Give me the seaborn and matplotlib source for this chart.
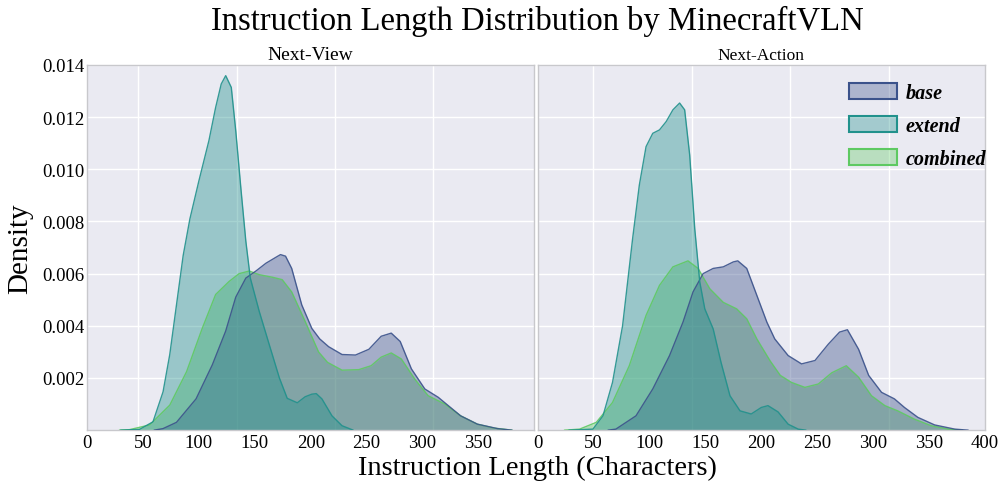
import numpy as np
import pandas as pd
import matplotlib
matplotlib.use("Agg")
import matplotlib.pyplot as plt
from matplotlib.patches import Patch
import seaborn as sns

# datasets and colours
datasets = ["base", "extend", "combined"]
palette = sns.color_palette("viridis", 3)

# density curves (x = instruction length, y = density)
# Next-View panel
nv_base_x = [60, 68, 80, 97.5, 112, 124, 133, 142, 151, 160, 169, 173, 177.5, 183, 192, 201,
             208, 216, 228, 240, 252, 263, 272, 280, 290, 302, 314, 323, 334, 349, 367, 380]
nv_base_y = [0.0, 0.00006, 0.0003, 0.0012, 0.0025, 0.0038, 0.0051, 0.00583, 0.0061, 0.0064,
             0.00663, 0.00673, 0.00667, 0.0062, 0.0048, 0.0039, 0.0035, 0.0032, 0.0029, 0.00288,
             0.0031, 0.0036, 0.00372, 0.0034, 0.00235, 0.00158, 0.00126, 0.00094, 0.00055,
             0.00023, 0.00006, 0.0]
nv_extend_x = [30, 47, 59, 68, 74, 80, 86, 92, 100, 109, 115, 120, 124, 129, 133, 137.5, 142,
               146, 154, 163, 172, 179, 188, 195, 201, 205, 210, 219, 228, 238]
nv_extend_y = [0.0, 0.00003, 0.00032, 0.00147, 0.0029, 0.0048, 0.0067, 0.0081, 0.00955, 0.0111,
               0.01237, 0.01327, 0.01359, 0.01314, 0.01147, 0.0093, 0.00724, 0.00583, 0.00455,
               0.00327, 0.002, 0.00122, 0.00105, 0.00128, 0.00138, 0.0014, 0.0012, 0.00055,
               0.00017, 0.0]
nv_combined_x = [29, 38, 56, 74, 89, 103, 115, 127, 136, 145, 154, 166, 174.5, 183, 195, 207,
                 215, 228, 243, 254, 263, 272, 281, 293, 305, 320, 334, 349, 364, 380]
nv_combined_y = [0.0, 0.00002, 0.0002, 0.00096, 0.00224, 0.0039, 0.0052, 0.0057, 0.006, 0.0061,
                 0.00596, 0.00586, 0.00577, 0.0053, 0.00417, 0.003, 0.0026, 0.0023, 0.00232,
                 0.00247, 0.0028, 0.00296, 0.00273, 0.00196, 0.00132, 0.001, 0.00055, 0.00023,
                 0.00008, 0.0]

# Next-Action panel
na_base_x = [63, 70, 88, 103, 118, 130, 139, 148, 157, 166, 175, 179, 187, 196, 205, 212, 224,
             236, 248, 260, 270, 277, 287, 296, 307.5, 319, 328, 340, 355, 373, 385]
na_base_y = [0.0, 0.00004, 0.00055, 0.00158, 0.00286, 0.00414, 0.0053, 0.006, 0.0062, 0.00626,
             0.00645, 0.00649, 0.0062, 0.00517, 0.00414, 0.0035, 0.00286, 0.00254, 0.00267,
             0.0033, 0.00376, 0.00385, 0.0031, 0.0021, 0.00145, 0.0012, 0.00087, 0.00049,
             0.0002, 0.00004, 0.0]
na_extend_x = [28, 49.5, 58.5, 67, 76, 85, 91, 97, 103, 109, 115, 121, 127, 131.5, 136, 140.5,
               145, 149.5, 157, 164, 172, 181, 191, 200, 206, 215, 224, 233, 240]
na_extend_y = [0.0, 0.00004, 0.00055, 0.00183, 0.004, 0.00735, 0.0094, 0.01087, 0.01138,
               0.01151, 0.01183, 0.01228, 0.01254, 0.01228, 0.01055, 0.00773, 0.00568, 0.00465,
               0.00388, 0.0026, 0.00132, 0.00074, 0.00062, 0.00087, 0.00094, 0.0007, 0.00023,
               0.00004, 0.0]
na_combined_x = [24, 37.6, 52.5, 67, 82, 97, 109, 121, 134.5, 143.5, 154, 166, 178, 187, 196,
                 208, 217, 227, 239, 251, 263, 276, 287, 298.5, 310.5, 322, 337, 352, 367, 380]
na_combined_y = [0.0, 0.00004, 0.0003, 0.00106, 0.00247, 0.0044, 0.00555, 0.00626, 0.00649,
                 0.0062, 0.00542, 0.0049, 0.00465, 0.00427, 0.0035, 0.00265, 0.0021, 0.00183,
                 0.00164, 0.00177, 0.0022, 0.00247, 0.00203, 0.00132, 0.00094, 0.00074, 0.00042,
                 0.00017, 0.00004, 0.0]

panels = {
    "Next-View": {"base": (nv_base_x, nv_base_y),
                  "extend": (nv_extend_x, nv_extend_y),
                  "combined": (nv_combined_x, nv_combined_y)},
    "Next-Action": {"base": (na_base_x, na_base_y),
                    "extend": (na_extend_x, na_extend_y),
                    "combined": (na_combined_x, na_combined_y)},
}

y_ticks = [0.002, 0.004, 0.006, 0.008, 0.010, 0.012, 0.014]
x_labels = [0, 50, 100, 150, 200, 250, 300, 350, 400]

sns.set_theme(style="darkgrid")
plt.rcParams['font.family'] = ['Liberation Serif', 'DejaVu Serif']
plt.rcParams.update({"text.color": "black", "axes.labelcolor": "black",
                     "xtick.color": "black", "ytick.color": "black"})

fig, axes = plt.subplots(1, 2, figsize=(10, 4.85), dpi=100, sharey=True)
fig.subplots_adjust(left=0.087, right=0.985, bottom=0.111, top=0.864, wspace=0.007)

# vertical grid lines in the reference do not sit on the tick labels
grid_pos = {"Next-View": [46, 134, 222, 309], "Next-Action": [50, 138, 226, 314]}
title_size = {"Next-View": 14, "Next-Action": 12.5}

for ax, (name, curves) in zip(axes, panels.items()):
    # draw bottom to top: combined, base, extend
    for ds in ["combined", "base", "extend"]:
        xs, ys = curves[ds]
        col = palette[datasets.index(ds)]
        df = pd.DataFrame({"x": xs, "y": ys})
        ax.fill_between(df["x"], df["y"], color=col, alpha=0.4, linewidth=0, zorder=2)
        sns.lineplot(data=df, x="x", y="y", ax=ax, color=col, linewidth=1.0, alpha=0.9, zorder=3)
    ax.set_xlim(0, 400)
    ax.set_ylim(0, 0.014)
    ax.set_title(name, fontsize=title_size[name], pad=4)
    ax.set_xlabel("")
    ax.set_ylabel("")
    lbls = x_labels if name == "Next-Action" else x_labels[:-1]
    ax.set_xticks(lbls)
    ax.set_xticklabels([str(v) for v in lbls], fontsize=13.5)
    ax.tick_params(axis="x", length=0, pad=3)
    ax.grid(False, axis="x")
    for gx in grid_pos[name]:
        ax.axvline(gx, color="white", linewidth=1.0, zorder=0.5)
    for sp in ax.spines.values():
        sp.set_visible(True)
        sp.set_color("#c8c8cc")
        sp.set_linewidth(1.0)

axes[0].set_yticks(y_ticks)
axes[0].set_yticklabels([f"{v:.3f}" for v in y_ticks], fontsize=13.5)
axes[0].tick_params(axis="y", length=0, pad=2)
axes[0].set_ylabel("Density", fontsize=21, labelpad=6)
axes[1].tick_params(axis="y", labelleft=False, length=0)

handles = [Patch(facecolor=(*palette[i], 0.35), edgecolor=palette[i], linewidth=1.5)
           for i in range(3)]
axes[1].legend(handles, datasets, loc="upper right", frameon=False,
               prop={"family": "Liberation Serif", "style": "italic", "weight": "bold", "size": 14.5},
               handlelength=2.4, handleheight=0.8, labelspacing=0.65, handletextpad=0.4,
               borderaxespad=0.0, bbox_to_anchor=(1.02, 0.973))

fig.text(0.537, 0.035, "Instruction Length (Characters)", ha="center", va="center", fontsize=20.5)
fig.suptitle("Instruction Length Distribution by MinecraftVLN", fontsize=23.5,
             y=0.955, x=0.537, va="center")

fig.savefig("out.png", dpi=100)
